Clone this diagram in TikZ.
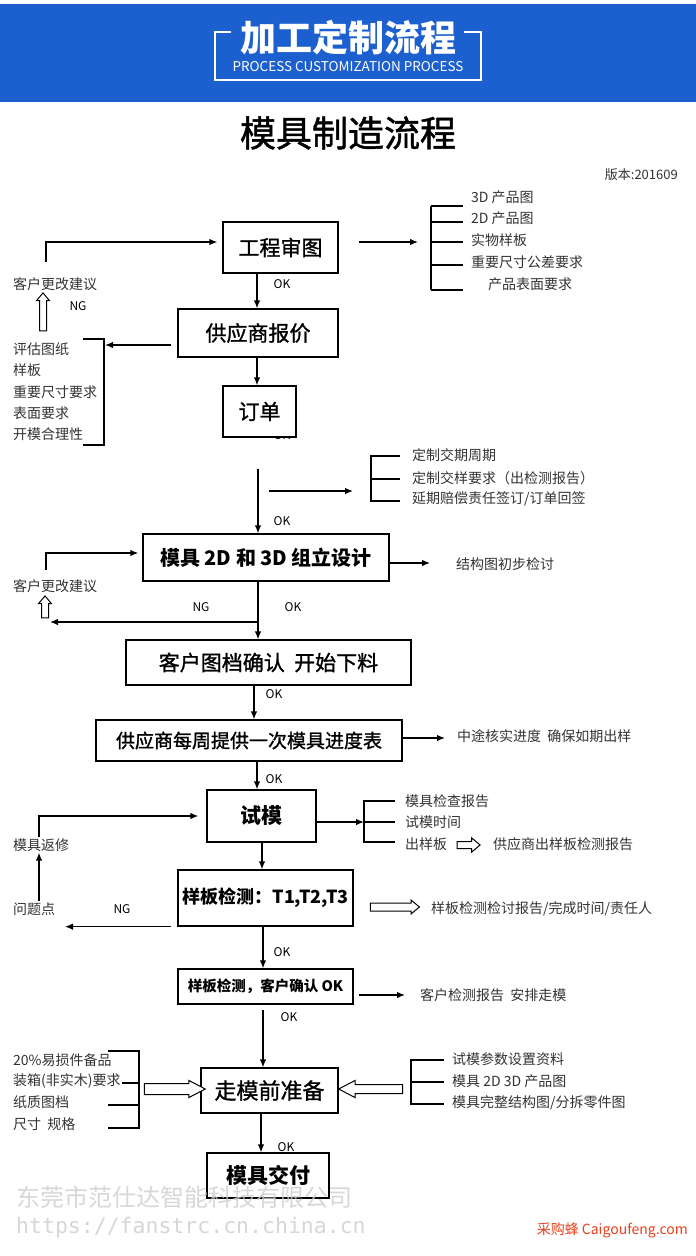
\documentclass[tikz,border=0pt]{standalone}
\usepackage{fontspec}
\setmainfont{Noto Sans CJK SC}
\newfontfamily\medfont{Noto Sans CJK SC}[FakeBold=1.2]
\newfontfamily\urlfont{DejaVu Sans Mono}
\usetikzlibrary{arrows.meta,shapes.arrows}

\definecolor{hdrblue}{RGB}{28,95,206}
\definecolor{listgray}{RGB}{51,51,51}
\definecolor{wmgray}{RGB}{205,205,205}
\definecolor{cgfred}{RGB}{232,64,28}

\tikzset{
	procbox/.style={draw, line width=1.3pt, fill=white, inner sep=0pt, font=\medfont\fontsize{21}{24}\selectfont},
	boldbox/.style={procbox, font=\fontsize{21}{24}\selectfont\bfseries},
	note/.style={anchor=west, inner sep=1pt, text=listgray, font=\fontsize{14}{16}\selectfont},
	oklbl/.style={inner sep=1pt, font=\fontsize{12}{14}\selectfont},
	flow/.style={line width=1.3pt, ->},
	bracket/.style={line width=1.3pt},
	hollow/.style={single arrow, draw, line width=1pt, fill=white, inner sep=0pt, minimum width=0pt, single arrow tip angle=80},
}

\begin{document}
\begin{tikzpicture}[x=1pt,y=-1pt,>={Latex[length=8pt,width=6.5pt]}]
	\useasboundingbox (0,0) rectangle (696,1256);
	\fill[white] (0,0) rectangle (696,1256);   % page
	\fill[hdrblue] (0,4) rectangle (696,102);   % header band
	\node[text=white, font=\fontsize{36}{40}\selectfont\bfseries] (hdr) at (348,38) {加工定制流程};
	\node[text=white, font=\fontsize{13.5}{15}\selectfont] (hdrsub) at (348,67) {PROCESS CUSTOMIZATION PROCESS};
	\draw[white, line width=1.2pt] (231,32) -- (215,32) -- (215,80) -- (481,80) -- (481,32) -- (464,32);   % frame
	\node[font=\medfont\fontsize{36}{40}\selectfont] (title) at (348,133) {模具制造流程};
	\node[anchor=east, inner sep=0pt, text=listgray, font=\fontsize{13}{15}\selectfont] (ver) at (678,175) {版本:201609};

	\node[oklbl] (ok3) at (282,435) {OK};   % half hidden under the order box

	% process boxes
	\node[procbox, minimum width=115pt, minimum height=51pt] (b1) at (280.5,247.5) {工程审图};
	\node[procbox, minimum width=160pt, minimum height=48pt] (b2) at (258,333) {供应商报价};
	\node[procbox, minimum width=73pt, minimum height=51pt] (b3) at (259.5,411.5) {订单};
	\node[boldbox, minimum width=246pt, minimum height=47pt, font=\fontsize{20}{24}\selectfont\bfseries] (b4) at (266,557.5) {模具 2D 和 3D 组立设计};
	\node[procbox, minimum width=285pt, minimum height=45pt] (b5) at (268.5,662.5) {客户图档确认~~开始下料};
	\node[procbox, minimum width=306pt, minimum height=41pt, font=\medfont\fontsize{19}{22}\selectfont] (b6) at (249,740.5) {供应商每周提供一次模具进度表};
	\node[boldbox, minimum width=109pt, minimum height=52pt] (b7) at (261.5,816) {试模};
	\node[boldbox, minimum width=175pt, minimum height=56pt, font=\fontsize{18}{22}\selectfont\bfseries] (b8) at (265.5,898) {样板检测：T1,T2,T3};
	\node[boldbox, minimum width=175pt, minimum height=35pt, font=\fontsize{14.5}{17}\selectfont\bfseries] (b9) at (265.5,986.5) {样板检测，客户确认 OK};
	\node[procbox, minimum width=137pt, minimum height=45pt, font=\medfont\fontsize{22}{25}\selectfont] (b10) at (269.5,1090.5) {走模前准备};
	\node[boldbox, minimum width=122pt, minimum height=45pt] (b11) at (268,1175.5) {模具交付};

	% main line
	\draw[flow] (257,0 |- b1.south) -- (257,0 |- b2.north);
	\draw[flow] (257,0 |- b2.south) -- (257,0 |- b3.north);
	\coordinate (s4) at (258,469);
	\draw[flow] (s4) -- (s4 |- b4.north);
	\draw[flow] (258,0 |- b4.south) -- (258,0 |- b5.north);
	\draw[flow] (254,0 |- b5.south) -- (254,0 |- b6.north);
	\draw[flow] (257,0 |- b6.south) -- (257,0 |- b7.north);
	\draw[flow] (262,0 |- b7.south) -- (262,0 |- b8.north);
	\draw[flow] (263,0 |- b8.south) -- (263,0 |- b9.north);
	\coordinate (s10) at (263,1010);
	\draw[flow] (s10) -- (s10 |- b10.north);
	\draw[flow] (261,0 |- b10.south) -- (261,0 |- b11.north);

	\node[oklbl] (ok1) at (282,284) {OK};
	\node[oklbl] (ok4) at (282,521) {OK};
	\node[oklbl] (ok5) at (293,607) {OK};
	\node[oklbl] (ok6) at (274,694) {OK};
	\node[oklbl] (ok7) at (274,779) {OK};
	\node[oklbl] (ok9) at (282,952) {OK};
	\node[oklbl] (ok10) at (289,1017) {OK};
	\node[oklbl] (ok11) at (286,1147) {OK};
	\node[oklbl] (ng1) at (78,306) {NG};
	\node[oklbl] (ng2) at (201,607) {NG};
	\node[oklbl] (ng3) at (122,909) {NG};

	% drawing review
	\coordinate (r1e) at (418,242);
	\draw[flow, shorten <=20pt] (b1.east |- r1e) -- (r1e);
	\draw[bracket] (431,206) -- (431,290);
	\foreach \y in {206,222,242,265,290}
		\draw[bracket] (431,\y) -- (463,\y);
	\foreach \y/\t in {197/3D 产品图, 218/2D 产品图, 240/实物样板, 262/重要尺寸公差要求}
		\node[note] (pl\y) at (470,\y) {\t};
	\node[note] (pl284) at (487,284) {产品表面要求};

	\node[note] (cs1) at (12,284) {客户更改建议};
	\coordinate (cs1t) at (46,262);
	\draw[flow, shorten >=5pt] (cs1t) |- (b1.west |- 0,242);
	\node[hollow, rotate=90, minimum height=38pt, inner ysep=3pt, single arrow head extend=3pt] (h1) at (43,314) {};

	% quotation
	\coordinate (l2e) at (105,345);
	\draw[flow, shorten <=6pt] (b2.west |- l2e) -- (l2e);
	\draw[bracket] (83,339) -- (104,339) -- (104,445) -- (83,445);
	\foreach \y/\t in {349/评估图纸, 370/样板, 392/重要尺寸要求, 413/表面要求, 434/开模合理性}
		\node[note] (ev\y) at (12,\y) {\t};

	% order terms
	\coordinate (r3s) at (269,491);
	\coordinate (r3e) at (353,491);
	\draw[flow] (r3s) -- (r3e);
	\draw[bracket] (400,456) -- (371,456) -- (371,501) -- (400,501);
	\draw[bracket] (371,479) -- (400,479);
	\foreach \y/\t in {455/定制交期周期, 478/定制交样要求（出检测报告）, 499/{延期赔偿责任签订/订单回签}}
		\node[note] (od\y) at (411,\y) {\t};

	% design
	\node[note] (cs2) at (12,586) {客户更改建议};
	\coordinate (cs2t) at (46,570);
	\draw[flow, shorten >=4pt] (cs2t) |- (b4.west |- 0,553);
	\node[hollow, rotate=90, minimum height=22pt, inner ysep=3pt, single arrow head extend=3pt] (h2) at (45,609) {};
	\coordinate (ng2s) at (258,622);
	\coordinate (ng2e) at (50,622);
	\draw[flow] (ng2s) -- (ng2e);
	\coordinate (r4e) at (430,563);
	\draw[flow] (b4.east |- r4e) -- (r4e);
	\node[note] (ds) at (455,564) {结构图初步检讨};

	\coordinate (r6e) at (445,738);
	\draw[flow] (b6.east |- r6e) -- (r6e);
	\node[note] (wk) at (456,736) {中途核实进度~~确保如期出样};

	% trial
	\node[note] (fx) at (12,845) {模具返修};
	\node[note] (wt) at (12,909) {问题点};
	\draw[flow] (39,0 |- wt.north) -- (39,0 |- fx.south);
	\draw[flow, shorten >=8pt] (39,0 |- fx.north) |- (b7.west);
	\coordinate (br3) at (364,822);
	\draw[flow] (b7.east |- br3) -- (br3);
	\draw[bracket] (395,801) -- (364,801) -- (364,842) -- (395,842);
	\draw[bracket] (364,822) -- (395,822);
	\foreach \y/\t in {801/模具检查报告, 822/试模时间, 844/出样板}
		\node[note] (tr\y) at (404,\y) {\t};
	\node[hollow, minimum height=23pt, inner ysep=3pt, single arrow head extend=3.5pt] (h3) at (466.5,845) {};
	\node[note] (sp) at (492,844) {供应商出样板检测报告};

	% sample check
	\coordinate (ng3e) at (65,926);
	\draw[flow, shorten <=6pt] (b8.south west) -- (b8.south west -| ng3e);
	\node[hollow, minimum height=49pt, inner ysep=3.5pt, single arrow head extend=3pt] (h4) at (392.5,907) {};
	\node[note] (sc) at (430,909) {样板检测检讨报告/完成时间/责任人};

	\coordinate (r9e) at (405,995);
	\draw[flow, shorten <=5pt] (b9.east |- r9e) -- (r9e);
	\node[note] (cc) at (419,995) {客户检测报告~~安排走模};

	% shipping preparation
	\draw[bracket] (108,1051) -- (139,1051) -- (139,1128) -- (108,1128);
	\draw[bracket] (122,1083) -- (139,1083);
	\draw[bracket] (108,1105) -- (139,1105);
	\foreach \y/\t in {1060/20\%易损件备品, 1081/装箱(非实木)要求, 1102/纸质图档, 1124/尺寸~~规格}
		\node[note] (sl\y) at (12,\y) {\t};
	\node[hollow, minimum height=61pt, inner ysep=5pt, single arrow head extend=3pt, single arrow tip angle=55] (h5) at (169.5,1089) {};
	\draw[bracket] (444,1060) -- (411,1060) -- (411,1104) -- (444,1104);
	\draw[bracket] (411,1082) -- (444,1082);
	\foreach \y/\t in {1059/试模参数设置资料, 1081/模具 2D 3D 产品图, 1103/{模具完整结构图/分拆零件图}}
		\node[note] (sr\y) at (451,\y) {\t};
	\node[hollow, rotate=180, minimum height=64pt, inner ysep=4pt, single arrow head extend=4pt, single arrow tip angle=55] (h6) at (375,1089) {};

	% watermarks
	\node[anchor=west, inner sep=0pt, text=wmgray, text opacity=0.8, font=\fontsize{24}{26}\selectfont] (wm1) at (16,1197) {东莞市范仕达智能科技有限公司};
	\node[anchor=west, inner sep=0pt, text=wmgray, text opacity=0.8, font=\urlfont\fontsize{21.5}{24}\selectfont] (wm2) at (16,1228) {https://fanstrc.cn.china.cn};
	\node[anchor=east, inner sep=0pt, text=cgfred, font=\fontsize{14}{16}\selectfont] (cgf) at (688,1230) {采购蜂 Caigoufeng.com};
\end{tikzpicture}
\end{document}
